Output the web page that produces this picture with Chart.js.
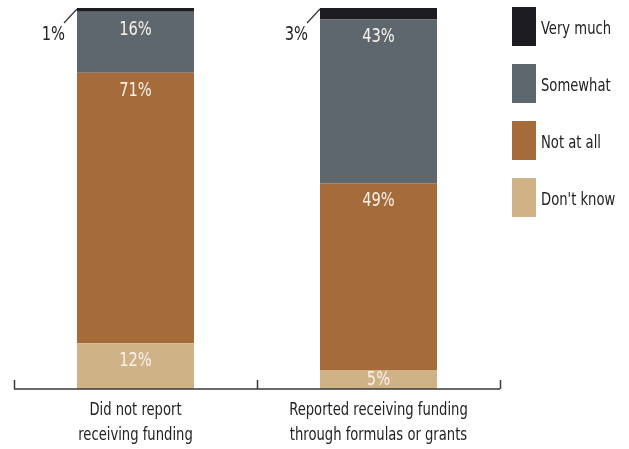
<!DOCTYPE html>
<html>
<head>
<meta charset="utf-8">
<title>Funding and concern</title>
<script src="https://cdn.jsdelivr.net/npm/chart.js@4"></script>
<style>
  html, body { margin: 0; padding: 0; background: #fff; }
  #chart { display: block; }
</style>
</head>
<body>
<canvas id="chart" width="629" height="449"></canvas>
<script>
// categories (x axis), one label per line
const categorias = [
  ['Did not report', 'receiving funding'],
  ['Reported receiving funding', 'through formulas or grants']
];

// series, bottom of the stack first
const series = ['Don\'t know', 'Not at all', 'Somewhat', 'Very much'];
const dontKnow = [12, 5];
const notAtAll = [71, 49];
const somewhat = [16, 43];
const veryMuch = [1, 3];
const colores = ['#d0b287', '#a56b3a', '#5f676e', '#1c1c21'];

// series whose value is written outside the bar with a leader line
const fuera = ['Very much'];

const FUENTE = '"DejaVu Sans Condensed", "Liberation Sans Narrow", sans-serif';
const ANCHO = 0.86; // horizontal squeeze, narrow face

const valores = [dontKnow, notAtAll, somewhat, veryMuch];
const datasets = series.map((nombre, i) => ({
  label: nombre,
  data: valores[i],
  backgroundColor: colores[i],
  borderWidth: 0,
  barPercentage: 1,
  categoryPercentage: 0.4815
}));

// text squeezed horizontally around its anchor
function texto(ctx, s, x, y, align) {
  ctx.save();
  ctx.translate(x, y);
  ctx.scale(ANCHO, 1);
  ctx.textAlign = align;
  ctx.fillText(s, 0, 0);
  ctx.restore();
}

// axis line with tick marks between the categories, pointing up, plus category names
const ejeBase = {
  id: 'ejeBase',
  afterDatasetsDraw(chart) {
    const { ctx, chartArea } = chart;
    const x = chart.scales.x;
    const y0 = chartArea.bottom;
    ctx.save();
    ctx.strokeStyle = '#3a3a3a';
    ctx.lineWidth = 1.5;
    ctx.beginPath();
    ctx.moveTo(chartArea.left, y0);
    ctx.lineTo(chartArea.right, y0);
    for (let i = 0; i <= categorias.length; i++) {
      const px = Math.round(x.getPixelForValue(i - 0.5)) + 0.5;
      ctx.moveTo(px, y0);
      ctx.lineTo(px, y0 - 9);
    }
    ctx.stroke();

    ctx.font = '17px ' + FUENTE;
    ctx.fillStyle = '#222';
    ctx.textBaseline = 'middle';
    categorias.forEach((lineas, i) => {
      const cx = x.getPixelForValue(i);
      lineas.forEach((l, j) => texto(ctx, l, cx, y0 + 22 + j * 25, 'center'));
    });
    ctx.restore();
  }
};

// percentage labels on each segment
const etiquetas = {
  id: 'etiquetas',
  afterDatasetsDraw(chart) {
    const { ctx } = chart;
    ctx.save();
    ctx.font = '19px ' + FUENTE;
    ctx.textBaseline = 'middle';
    chart.data.datasets.forEach((ds, di) => {
      const meta = chart.getDatasetMeta(di);
      meta.data.forEach((bar, i) => {
        const s = ds.data[i] + '%';
        const arriba = Math.min(bar.y, bar.base);
        const abajo = Math.max(bar.y, bar.base);
        const izq = bar.x - bar.width / 2;
        if (fuera.includes(ds.label)) {
          ctx.strokeStyle = '#333';
          ctx.lineWidth = 1.2;
          ctx.beginPath();
          ctx.moveTo(izq - 13, arriba + 15);
          ctx.lineTo(izq, arriba + 1);
          ctx.stroke();
          ctx.fillStyle = '#222';
          texto(ctx, s, izq - 12, arriba + 27, 'right');
        } else {
          const cy = Math.min(arriba + 17, (arriba + abajo) / 2);
          ctx.fillStyle = '#f6f2ea';
          texto(ctx, s, bar.x, cy + 1, 'center');
        }
      });
    });
    ctx.restore();
  }
};

// legend column on the right, top entry = top of the stack
const leyenda = {
  id: 'leyenda',
  afterDraw(chart) {
    const { ctx, chartArea } = chart;
    const x0 = chartArea.right + 12;
    ctx.save();
    ctx.font = '17px ' + FUENTE;
    ctx.textBaseline = 'middle';
    const orden = chart.data.datasets.slice().reverse();
    orden.forEach((ds, k) => {
      const top = 7 + k * 57;
      ctx.fillStyle = ds.backgroundColor;
      ctx.fillRect(x0, top, 24, 39);
      ctx.fillStyle = '#222';
      texto(ctx, ds.label, x0 + 29, top + 23, 'left');
    });
    ctx.restore();
  }
};

new Chart(document.getElementById('chart'), {
  type: 'bar',
  data: { labels: categorias, datasets },
  options: {
    responsive: false,
    animation: false,
    layout: { padding: { top: 8, left: 14, right: 129, bottom: 52 } },
    plugins: {
      legend: { display: false },
      tooltip: { enabled: false }
    },
    scales: {
      x: {
        stacked: true,
        grid: { display: false },
        border: { display: false },
        ticks: { display: false }
      },
      y: {
        stacked: true,
        display: false,
        min: 0,
        max: 100
      }
    }
  },
  plugins: [ejeBase, etiquetas, leyenda]
});
</script>
</body>
</html>
